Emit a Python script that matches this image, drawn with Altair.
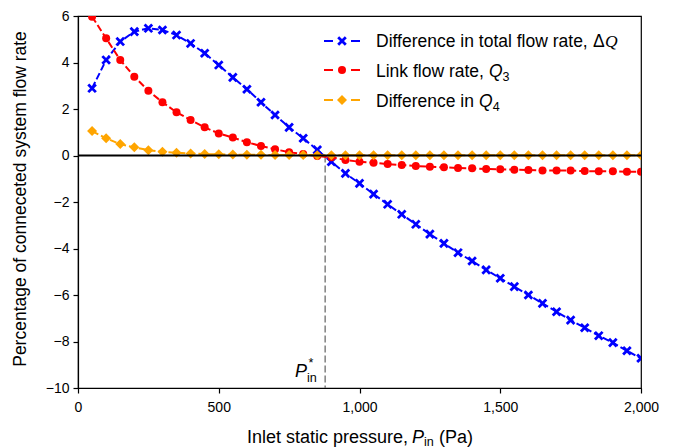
import altair as alt
import pandas as pd

# ---------------- data ----------------
pressure = [50, 100, 150, 200, 250, 300, 350, 400, 450, 500,
            550, 600, 650, 700, 750, 800, 850, 900, 950, 1000,
            1050, 1100, 1150, 1200, 1250, 1300, 1350, 1400, 1450, 1500,
            1550, 1600, 1650, 1700, 1750, 1800, 1850, 1900, 1950, 2000]

total_diff = [2.89, 4.11, 4.90, 5.33, 5.47, 5.40, 5.18, 4.82, 4.40, 3.89,
              3.36, 2.85, 2.29, 1.74, 1.21, 0.74, 0.24, -0.27, -0.77, -1.20,
              -1.66, -2.10, -2.53, -2.96, -3.38, -3.78, -4.18, -4.54, -4.92, -5.28,
              -5.64, -6.00, -6.36, -6.72, -7.08, -7.41, -7.75, -8.05, -8.40, -8.72]

link_q3 = [5.97, 5.04, 4.11, 3.39, 2.79, 2.29, 1.86, 1.53, 1.21, 0.95,
           0.77, 0.57, 0.41, 0.27, 0.14, 0.06, -0.02, -0.08, -0.19, -0.27,
           -0.31, -0.37, -0.41, -0.45, -0.48, -0.51, -0.54, -0.55, -0.58, -0.59,
           -0.61, -0.62, -0.64, -0.65, -0.65, -0.67, -0.68, -0.68, -0.70, -0.70]

diff_q4 = [1.05, 0.74, 0.49, 0.35, 0.23, 0.16, 0.12, 0.09, 0.06, 0.05,
           0.04, 0.03, 0.03, 0.02, 0.02, 0.02, 0.01, 0.01, 0.01, 0.01,
           0.01, 0.01, 0.01, 0.01, 0.01, 0.01, 0.01, 0.01, 0.01, 0.01,
           0.01, 0.01, 0.01, 0.01, 0.01, 0.01, 0.01, 0.01, 0.01, 0.01]

p_star = [878]
x_ticks = [0, 500, 1000, 1500, 2000]
y_ticks = [-10, -8, -6, -4, -2, 0, 2, 4, 6]

BLUE, RED, ORANGE = "#0000FF", "#FF0000", "#FFA500"
FONT = "Liberation Sans"
X_PATH = "M-1,-1L1,1M-1,1L1,-1"

df = pd.DataFrame({"P": pressure, "dQ": total_diff, "Q3": link_q3, "Q4": diff_q4})

# ---------------- layout ----------------
W, H = 563, 372
OX, OY = 78, 16  # page position of plot origin (8px margin + padding)

xscale = alt.Scale(domain=[0, 2000], nice=False, zero=False)
yscale = alt.Scale(domain=[-10, 6], nice=False, zero=False)

axis_common = dict(grid=False, title=None, labelFont=FONT, labelFontSize=14,
                   labelColor="black", tickColor="black", domainColor="black",
                   tickSize=5, tickWidth=1.2, domainWidth=1.2,
                   labelFlush=False, labelOverlap=False, labelBound=False)
x_axis = alt.Axis(values=x_ticks, labelExpr="format(datum.value, ',')",
                  labelPadding=7, **axis_common)
y_axis = alt.Axis(values=y_ticks,
                  labelExpr="replace(format(datum.value, 'd'), '-', '\u2212')",
                  labelPadding=4, **axis_common)

X = alt.X("P:Q", scale=xscale, axis=x_axis)

CROSS_SIZE, CIRCLE_SIZE, DIAMOND_SIZE = 58, 64, 100


def series(col, color, shape, size, filled, sw=2.8):
    base = alt.Chart(df).encode(X, alt.Y(f"{col}:Q", scale=yscale, axis=y_axis))
    line = base.mark_line(color=color, strokeWidth=2, strokeDash=[7, 3], clip=True)
    if filled:
        pts = base.mark_point(shape=shape, size=size, filled=True, color=color,
                              opacity=1, clip=True)
    else:
        pts = base.mark_point(shape=shape, size=size, filled=False, stroke=color,
                              strokeWidth=sw, opacity=1, clip=True)
    return line + pts


def txt(s, px, py, size=18, italic=False, font=FONT, align="left",
        baseline="alphabetic", angle=0):
    return alt.Chart(pd.DataFrame({"s": [s]})).mark_text(
        align=align, baseline=baseline, fontSize=size, font=font,
        fontStyle="italic" if italic else "normal", angle=angle, color="black"
    ).encode(x=alt.value(px - OX), y=alt.value(py - OY), text="s:N")


def seg(x1, x2, py, color):
    return alt.Chart(pd.DataFrame({"a": [0]})).mark_rule(
        color=color, strokeWidth=2).encode(
        x=alt.value(x1 - OX), x2=alt.value(x2 - OX), y=alt.value(py - OY))


def sym(px, py, color, shape, size, filled):
    d = alt.Chart(pd.DataFrame({"a": [0]}))
    if filled:
        m = d.mark_point(shape=shape, size=size, filled=True, color=color, opacity=1)
    else:
        m = d.mark_point(shape=shape, size=size, filled=False, stroke=color,
                         strokeWidth=2.8, opacity=1)
    return m.encode(x=alt.value(px - OX), y=alt.value(py - OY))


vline = alt.Chart(pd.DataFrame({"x": p_star, "y": [0], "y2": [-10]})).mark_rule(
    color="#808080", strokeWidth=1.5, strokeDash=[7, 3]).encode(
    x=alt.X("x:Q", scale=xscale, axis=x_axis),
    y=alt.Y("y:Q", scale=yscale, axis=y_axis), y2="y2:Q")

zero = alt.Chart(pd.DataFrame({"y": [0]})).mark_rule(
    color="black", strokeWidth=2).encode(y=alt.Y("y:Q", scale=yscale, axis=y_axis))

layers = [
    vline,
    series("dQ", BLUE, X_PATH, CROSS_SIZE, False),
    series("Q3", RED, "circle", CIRCLE_SIZE, True),
    series("Q4", ORANGE, "diamond", DIAMOND_SIZE, True),
    zero,
]

# legend
rows = [(41, BLUE, X_PATH, CROSS_SIZE, False), (70, RED, "circle", CIRCLE_SIZE, True),
        (100, ORANGE, "diamond", DIAMOND_SIZE, True)]
for ry, c, shp, sz, fl in rows:
    layers += [seg(324, 333, ry, c), seg(351, 360, ry, c), sym(342, ry, c, shp, sz, fl)]

LF = 17.5
layers += [
    txt("Difference in total flow rate,", 376, 47, LF),
    txt("Δ", 593, 47, LF),
    txt("Q", 605, 47, LF, italic=True, font="Liberation Serif"),
    txt("Link flow rate,", 376, 76.5, LF),
    txt("Q", 489, 76.5, LF, italic=True),
    txt("3", 502.5, 80.5, 12.5),
    txt("Difference in", 376, 106.5, LF),
    txt("Q", 479, 106.5, LF, italic=True),
    txt("4", 492.7, 110.5, 12.5),
]

# P_in* annotation
layers += [
    txt("P", 295, 377, 18, italic=True),
    txt("in", 307, 381.5, 12.6),
    txt("*", 308.5, 367, 12.6),
]

# axis titles
layers += [
    txt("Inlet static pressure,", 247, 442.5, 18),
    txt("P", 412, 442.5, 18, italic=True),
    txt("in", 424, 445.5, 12.6),
    txt("(Pa)", 439, 442.5, 18),
    txt("Percentage of conneceted system flow rate", 21, 199, 17.5,
        align="center", baseline="middle", angle=270),
]

chart = alt.layer(*layers).properties(
    width=W, height=H,
    autosize=alt.AutoSizeParams(type="none"),
    padding={"left": 70, "top": 8, "right": 25, "bottom": 59},
).configure_view(stroke="black", strokeWidth=1.2)

chart.save("out.html", embed_options={"renderer": "svg", "actions": False})
